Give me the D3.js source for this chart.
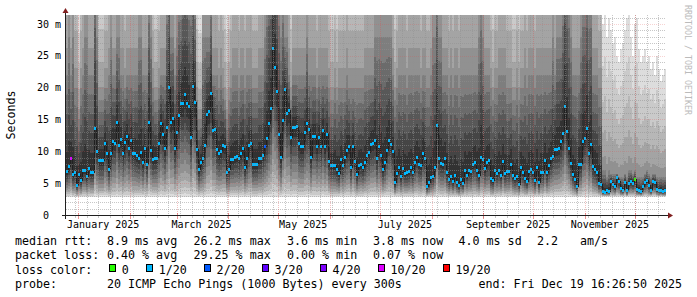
<!DOCTYPE html>
<html>
<head>
<meta charset="utf-8">
<script src="https://cdn.jsdelivr.net/npm/d3@7"></script>
<style>
  html, body { margin: 0; padding: 0; background: #fff; }
  svg { display: block; }
  text { font-family: "DejaVu Sans Mono", monospace; fill: #000; }
</style>
</head>
<body>
<svg width="697" height="297"></svg>
<script>
// graph window: 360 days ending at the probe's last update
const endTime = new Date(Date.UTC(2025, 11, 19, 16, 26, 50));
const spanDays = 360;
const yMax = 31.41; // ms, upper limit picked by rrdtool

// median rtt per consolidated step (ms)
const median = [
  6.8, 7.6, 8.8, 6.3, 6.6, 4.7, 6.3, 5.4, 7.0, 7.0,
  6.0, 7.3, 6.7, 6.7, 13.6, 9.9, 8.5, 8.5, 8.5, 11.2,
  9.6, 7.2, 9.6, 11.5, 11.3, 14.5, 10.9, 11.8, 9.6, 11.4,
  12.4, 10.4, 11.7, 9.6, 9.6, 9.3, 8.9, 9.8, 8.2, 10.4,
  7.9, 14.5, 10.2, 8.7, 8.9, 8.9, 11.3, 14.3, 12.6, 10.4,
  13.8, 20.0, 14.5, 15.2, 10.5, 13.0, 15.6, 17.5, 17.5, 19.0,
  17.5, 17.1, 12.1, 20.2, 17.6, 10.3, 7.1, 8.3, 8.9, 10.9,
  15.8, 16.3, 19.1, 13.3, 13.4, 10.3, 9.6, 10.0, 10.9, 10.7,
  6.7, 7.2, 8.7, 8.7, 9.1, 9.2, 8.8, 9.6, 10.4, 7.5,
  8.9, 10.9, 11.2, 7.9, 8.0, 8.0, 8.9, 8.9, 9.4, 10.7,
  12.0, 14.3, 16.8, 26.2, 23.1, 19.4, 12.6, 9.1, 14.9, 19.7,
  15.9, 16.4, 12.2, 13.8, 13.8, 13.9, 11.2, 10.8, 10.8, 12.9,
  14.3, 13.4, 9.1, 12.3, 12.3, 10.8, 12.2, 10.7, 13.3, 10.7,
  12.6, 8.4, 7.7, 7.7, 7.7, 7.1, 6.5, 8.7, 7.7, 9.1,
  10.2, 10.8, 7.4, 10.8, 8.4, 6.3, 7.7, 7.9, 7.4, 8.3,
  9.3, 9.8, 11.0, 11.2, 11.7, 8.8, 10.7, 9.3, 7.2, 8.3,
  10.2, 11.7, 11.0, 9.9, 5.1, 6.5, 7.5, 6.0, 7.3, 6.5,
  6.6, 6.8, 7.5, 6.6, 8.3, 9.1, 7.9, 7.7, 9.6, 8.9,
  4.5, 5.1, 5.9, 6.1, 7.5, 14.0, 8.8, 8.1, 8.0, 8.8,
  6.6, 5.5, 6.1, 5.2, 6.2, 5.1, 4.6, 5.5, 5.0, 7.0,
  6.2, 7.0, 6.8, 7.9, 8.2, 7.0, 6.2, 9.1, 8.7, 7.3,
  8.2, 8.5, 5.7, 5.4, 7.0, 6.5, 7.0, 6.2, 8.4, 6.5,
  6.8, 6.8, 7.9, 6.2, 5.8, 6.0, 4.8, 7.4, 6.6, 5.7,
  5.3, 6.8, 7.2, 6.6, 5.4, 7.4, 5.1, 6.7, 6.6, 8.6,
  6.6, 7.7, 8.8, 9.2, 10.3, 10.3, 10.5, 11.5, 12.8, 17.0,
  13.1, 10.5, 8.1, 6.3, 5.5, 4.5, 7.9, 8.0, 11.5, 12.0,
  13.6, 9.7, 11.1, 7.6, 7.2, 6.6, 5.0, 4.8, 3.7, 3.6,
  3.8, 3.7, 5.3, 4.8, 4.4, 5.9, 5.3, 4.1, 3.9, 5.1,
  3.8, 5.0, 5.3, 5.0, 5.5, 4.0, 3.9, 3.7, 4.4, 5.1,
  5.4, 4.6, 3.9, 5.3, 5.1, 4.0, 3.8, 3.9, 3.7, 3.8
];

// slowest of the 20 pings per step (ms)
const pingMax = [
  70, 80, 70, 80, 55, 55, 34, 55, 70, 80,
  80, 70, 70, 70, 110, 80, 42, 42, 42, 55,
  55, 70, 80, 70, 70, 80, 80, 70, 70, 55,
  70, 70, 70, 70, 70, 70, 80, 80, 70, 70,
  70, 95, 80, 55, 42, 42, 55, 70, 70, 70,
  95, 110, 80, 80, 70, 80, 95, 95, 110, 110,
  110, 95, 95, 110, 95, 42, 34, 34, 80, 80,
  80, 80, 95, 70, 70, 70, 55, 70, 55, 42,
  34, 42, 55, 70, 70, 70, 55, 70, 70, 55,
  70, 70, 70, 55, 55, 55, 70, 70, 70, 80,
  95, 110, 110, 130, 130, 110, 95, 80, 95, 80,
  80, 70, 42, 70, 70, 70, 70, 70, 70, 70,
  80, 70, 70, 70, 70, 55, 70, 70, 70, 70,
  70, 55, 42, 42, 55, 42, 55, 55, 55, 55,
  70, 55, 55, 55, 55, 55, 55, 55, 55, 70,
  70, 70, 70, 70, 80, 80, 80, 80, 80, 80,
  80, 80, 80, 70, 42, 55, 70, 70, 70, 70,
  55, 70, 70, 70, 70, 70, 70, 55, 70, 70,
  55, 55, 70, 80, 80, 110, 80, 80, 70, 70,
  70, 55, 70, 55, 70, 70, 55, 70, 70, 70,
  70, 70, 70, 70, 70, 70, 80, 95, 80, 70,
  70, 70, 55, 42, 55, 55, 70, 70, 70, 70,
  55, 55, 55, 42, 42, 55, 42, 55, 55, 70,
  55, 70, 70, 70, 55, 70, 70, 70, 70, 70,
  70, 70, 70, 80, 70, 80, 80, 80, 95, 130,
  110, 95, 80, 70, 70, 70, 70, 80, 95, 95,
  110, 95, 95, 70, 70, 70, 55, 55, 30, 32,
  28, 31, 29, 27, 28, 25, 24, 26, 27, 29,
  31, 32, 28, 25, 30, 31, 26, 24, 25, 26,
  24, 25, 23, 24, 22, 25, 23, 21, 22, 23
];

// upper quartile of the 20 pings per step (ms)
const pingQ75 = [
  22, 28, 22, 28, 20, 20, 15, 20, 22, 28,
  28, 22, 22, 22, 40, 28, 18, 18, 18, 20,
  20, 22, 28, 22, 22, 28, 28, 22, 22, 20,
  22, 22, 22, 22, 22, 22, 28, 28, 22, 22,
  22, 34, 28, 20, 18, 18, 20, 22, 22, 22,
  34, 40, 28, 28, 22, 28, 34, 34, 40, 40,
  40, 34, 34, 40, 34, 18, 15, 15, 28, 28,
  28, 28, 34, 22, 22, 22, 20, 22, 20, 18,
  15, 18, 20, 22, 22, 22, 20, 22, 22, 20,
  22, 22, 22, 20, 20, 20, 22, 22, 22, 28,
  34, 40, 40, 50, 50, 40, 34, 28, 34, 28,
  28, 22, 18, 22, 22, 22, 22, 22, 22, 22,
  28, 22, 22, 22, 22, 20, 22, 22, 22, 22,
  22, 20, 18, 18, 20, 18, 20, 20, 20, 20,
  22, 20, 20, 20, 20, 20, 20, 20, 20, 22,
  22, 22, 22, 22, 28, 28, 28, 28, 28, 28,
  28, 28, 28, 22, 18, 20, 22, 22, 22, 22,
  20, 22, 22, 22, 22, 22, 22, 20, 22, 22,
  20, 20, 22, 28, 28, 40, 28, 28, 22, 22,
  22, 20, 22, 20, 22, 22, 20, 22, 22, 22,
  22, 22, 22, 22, 22, 22, 28, 34, 28, 22,
  22, 22, 20, 18, 20, 20, 22, 22, 22, 22,
  20, 20, 20, 18, 18, 20, 18, 20, 20, 22,
  20, 22, 22, 22, 20, 22, 22, 22, 22, 22,
  22, 22, 22, 28, 22, 28, 28, 28, 34, 50,
  40, 34, 28, 22, 22, 22, 22, 28, 34, 34,
  40, 34, 34, 22, 22, 22, 20, 20, 7, 7,
  6, 7, 6.5, 6.5, 6.5, 6.5, 6, 6, 6, 6.5,
  6, 7, 7, 6.5, 7, 6, 6, 6, 6, 6.5,
  7, 6.5, 6, 6.5, 6.5, 6, 6, 6, 6, 6
];

const pingFloor = 2.9; // fastest ping seen (ms)

// steps whose loss differs from the usual 1/20
const lossStep = [2, 99, 284];
const lossStepLevel = [5, 2, 0];
const usualLossLevel = 1;

const lossColors = ["#26ff00", "#00b8ff", "#0059ff", "#5e00ff", "#7e00ff", "#dd00ff", "#ff0000"];
const lossLabels = ["0", "1/20", "2/20", "3/20", "4/20", "10/20", "19/20"];

const yTicks = [0, 5, 10, 15, 20, 25, 30];
const yTickLabels = ["0  ", "5 m", "10 m", "15 m", "20 m", "25 m", "30 m"];
const xLabels = ["January 2025", "March 2025", "May 2025", "July 2025", "September 2025", "November 2025"];

const rttStats = ["8.9 ms avg", "26.2 ms max", "3.6 ms min", "3.8 ms now", "4.0 ms sd", "2.2", "am/s"];
const lossStats = ["0.40 % avg", "29.25 % max", "0.00 % min", "0.07 % now"];
const probeText = "20 ICMP Echo Pings (1000 Bytes) every 300s";
const endText = "end: Fri Dec 19 16:26:50 2025";

const svg = d3.select("svg");
const startTime = new Date(+endTime - spanDays * 864e5);
const stepMs = spanDays * 864e5 / median.length;

const x = d3.scaleUtc().domain([startTime, endTime]).range([66, 666]);
const y = d3.scaleLinear().domain([0, yMax]).range([215, 15]);

const steps = median.map((m, i) => {
  const k = lossStep.indexOf(i);
  return {
    t: new Date(+startTime + i * stepMs),
    m: m,
    hi: pingMax[i],
    q: Math.max(pingQ75[i], m),
    loss: k < 0 ? usualLossLevel : lossStepLevel[k]
  };
});
const stepsEnd = steps.concat([Object.assign({}, steps[steps.length - 1], { t: endTime })]);

// smoke: band 1 spans ping 1..20, band 10 spans ping 10..11
function upper(d, band) {
  if (band <= 5) return d.q + (d.hi - d.q) * Math.pow((6 - band) / 5, 1.5);
  return d.m + (d.q - d.m) * (11 - band) / 5;
}
function lower(d, band) {
  return pingFloor + (d.m - pingFloor) * Math.pow((band - 1) / 10, 1.5);
}

svg.append("defs").append("clipPath").attr("id", "plot")
  .append("rect").attr("x", 66).attr("y", 15).attr("width", 600).attr("height", 200);

const plot = svg.append("g").attr("clip-path", "url(#plot)");
const smoke = plot.append("g").attr("shape-rendering", "crispEdges");

d3.range(1, 11).forEach(band => {
  const g = Math.floor(190 / 10 * (10 - band)) + 50;
  smoke.append("path")
    .datum(stepsEnd)
    .attr("fill", d3.rgb(g, g, g))
    .attr("d", d3.area()
      .curve(d3.curveStepAfter)
      .x(d => x(d.t))
      .y0(d => y(lower(d, band)))
      .y1(d => y(Math.min(upper(d, band), yMax + 2))));
});

plot.append("path")
  .datum(stepsEnd)
  .attr("fill", "none")
  .attr("stroke", "#202020")
  .attr("stroke-width", 1)
  .attr("shape-rendering", "crispEdges")
  .attr("d", d3.line().curve(d3.curveStepAfter).x(d => x(d.t)).y(d => y(d.m)));

plot.append("g").attr("shape-rendering", "crispEdges")
  .selectAll("rect")
  .data(steps)
  .enter()
  .append("rect")
  .attr("x", d => x(d.t))
  .attr("width", d => x(new Date(+d.t + stepMs)) - x(d.t))
  .attr("y", d => y(d.m) - 1.5)
  .attr("height", 3)
  .attr("fill", d => lossColors[d.loss]);

// grid on top of the graph, like rrdtool
const grid = svg.append("g").attr("shape-rendering", "crispEdges");
const minorCol = "rgba(143,143,143,0.5)";
const majorCol = "rgba(222,79,79,0.25)";

const weeks = d3.utcMonday.range(startTime, endTime);
const months = d3.utcMonth.range(d3.utcMonth.ceil(startTime), endTime);
const minorY = d3.range(1, Math.floor(yMax) + 1).filter(v => v % 5 !== 0);

grid.selectAll(".hmin").data(minorY).enter().append("line")
  .attr("x1", 66).attr("x2", 666)
  .attr("y1", d => Math.round(y(d)) + 0.5).attr("y2", d => Math.round(y(d)) + 0.5)
  .attr("stroke", minorCol).attr("stroke-dasharray", "1,1");

grid.selectAll(".vmin").data(weeks).enter().append("line")
  .attr("x1", d => Math.round(x(d)) + 0.5).attr("x2", d => Math.round(x(d)) + 0.5)
  .attr("y1", 15).attr("y2", 215)
  .attr("stroke", minorCol).attr("stroke-dasharray", "1,1");

grid.selectAll(".hmaj").data(yTicks.slice(1)).enter().append("line")
  .attr("x1", 66).attr("x2", 666)
  .attr("y1", d => Math.round(y(d)) + 0.5).attr("y2", d => Math.round(y(d)) + 0.5)
  .attr("stroke", majorCol).attr("stroke-dasharray", "1,1");

grid.selectAll(".vmaj").data(months).enter().append("line")
  .attr("x1", d => Math.round(x(d)) + 0.5).attr("x2", d => Math.round(x(d)) + 0.5)
  .attr("y1", 15).attr("y2", 215)
  .attr("stroke", "rgba(222,79,79,0.35)").attr("stroke-dasharray", "1,1");

// little ticks under the x axis
grid.selectAll(".tmin").data(weeks).enter().append("line")
  .attr("x1", d => Math.round(x(d)) + 0.5).attr("x2", d => Math.round(x(d)) + 0.5)
  .attr("y1", 215).attr("y2", 218).attr("stroke", minorCol);
grid.selectAll(".tmaj").data(months).enter().append("line")
  .attr("x1", d => Math.round(x(d)) + 0.5).attr("x2", d => Math.round(x(d)) + 0.5)
  .attr("y1", 213).attr("y2", 219).attr("stroke", "rgba(222,79,79,0.6)");

// axes and arrows
const axis = svg.append("g").attr("shape-rendering", "crispEdges");
axis.append("line").attr("x1", 62).attr("x2", 670).attr("y1", 215.5).attr("y2", 215.5)
  .attr("stroke", "rgb(31,31,31)");
axis.append("line").attr("x1", 65.5).attr("x2", 65.5).attr("y1", 219).attr("y2", 11)
  .attr("stroke", "rgb(31,31,31)");
svg.append("path").attr("d", "M668,212.5L668,218.5L673,215.5Z").attr("fill", "rgb(128,31,31)");
svg.append("path").attr("d", "M62.5,13L68.5,13L65.5,8Z").attr("fill", "rgb(128,31,31)");

// axis labels
svg.append("g").selectAll("text").data(yTicks).enter().append("text")
  .attr("x", 61)
  .attr("y", d => y(d) + 3.6)
  .attr("text-anchor", "end")
  .attr("font-size", "10px")
  .style("white-space", "pre")
  .text((d, i) => yTickLabels[i]);

const parseMonth = d3.utcParse("%B %Y");
svg.append("g").selectAll("text").data(xLabels).enter().append("text")
  .attr("x", d => x(d3.utcDay.offset(parseMonth(d), 15)))
  .attr("y", 227.5)
  .attr("text-anchor", "middle")
  .attr("font-size", "10px")
  .text(d => d);

svg.append("text")
  .attr("transform", "translate(15,115) rotate(-90)")
  .attr("text-anchor", "middle")
  .attr("font-size", "11.66px")
  .text("Seconds");

svg.append("text")
  .attr("transform", "translate(685,5) rotate(90)")
  .attr("font-size", "8.3px")
  .style("fill", "#bbbbbb")
  .text("RRDTOOL / TOBI OETIKER");

// legend
const legend = svg.append("g").attr("font-size", "11.66px").style("white-space", "pre");
const rowY = [245, 259.3, 273.5, 287.7];
const statX = [107, 193.5, 287, 373, 458.5, 537, 580];

legend.append("text").attr("x", 15).attr("y", rowY[0]).text("median rtt:");
rttStats.forEach((s, i) => legend.append("text").attr("x", statX[i]).attr("y", rowY[0]).text(s));

legend.append("text").attr("x", 15).attr("y", rowY[1]).text("packet loss:");
lossStats.forEach((s, i) => legend.append("text").attr("x", statX[i]).attr("y", rowY[1]).text(s));

legend.append("text").attr("x", 15).attr("y", rowY[2]).text("loss color:");
let bx = 109;
lossLabels.forEach((lab, i) => {
  legend.append("rect")
    .attr("x", bx + 0.5).attr("y", 264.5).attr("width", 6).attr("height", 7)
    .attr("fill", lossColors[i]).attr("stroke", "#000").attr("shape-rendering", "crispEdges");
  const t = legend.append("text").attr("x", bx + 12.7).attr("y", rowY[2]).text(lab);
  bx += 12.7 + t.node().getComputedTextLength() + 17.2;
});

legend.append("text").attr("x", 15).attr("y", rowY[3]).text("probe:");
legend.append("text").attr("x", statX[0]).attr("y", rowY[3]).text(probeText);
legend.append("text").attr("x", 478.5).attr("y", rowY[3]).text(endText);
</script>
</body>
</html>
